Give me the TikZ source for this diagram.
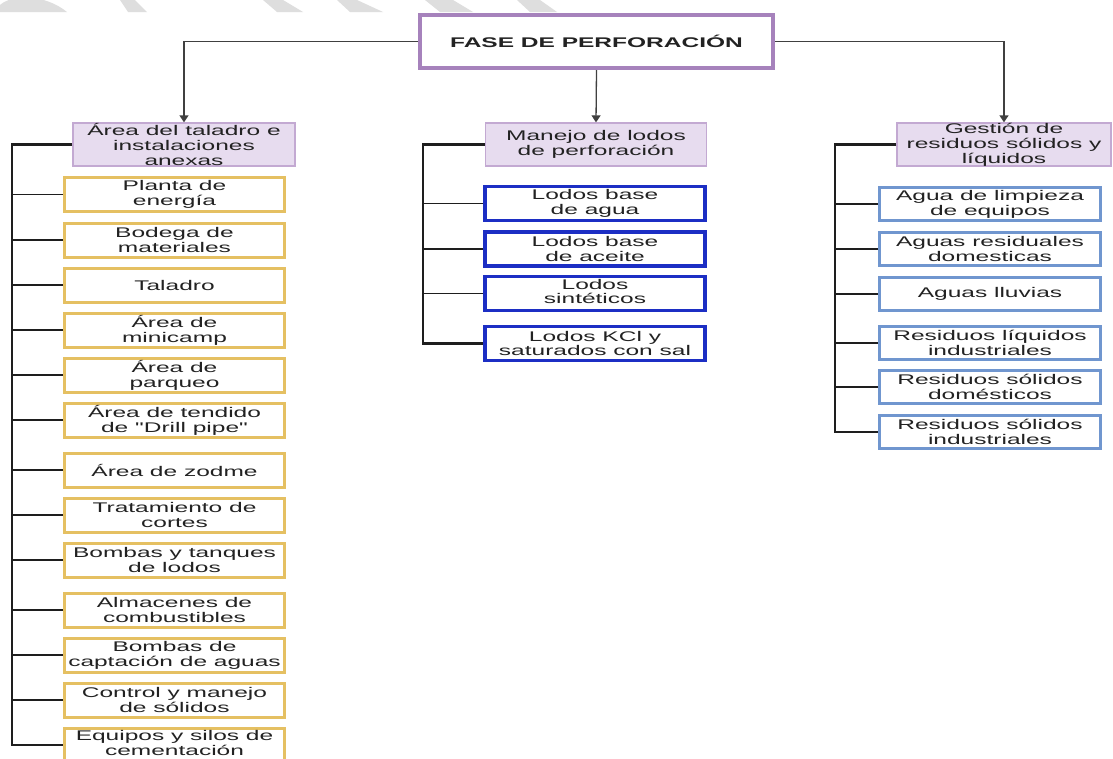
\documentclass[tikz,border=0pt]{standalone}
\usepackage{fontspec}
\setmainfont[FakeStretch=1.75,Ligatures=TeXOff]{Liberation Sans}
\usetikzlibrary{arrows.meta}

\definecolor{ink}{HTML}{222222}
\definecolor{wire}{HTML}{1E1E1E}
\definecolor{stripe}{HTML}{DEDEDE}
\definecolor{titleedge}{HTML}{A682BC}
\definecolor{catfill}{HTML}{E7DCEF}
\definecolor{catedge}{HTML}{C3A9D2}
\definecolor{goldedge}{HTML}{E5C062}
\definecolor{royaledge}{HTML}{1C2EC4}
\definecolor{steeledge}{HTML}{7096CF}

\begin{document}
\begin{tikzpicture}[x=1pt,y=-1pt,
  every node/.style={font=\fontsize{14}{14.8}\selectfont, text=ink, align=center, inner sep=0pt},
  titlebox/.style={draw=titleedge, line width=4pt, fill=white,
    minimum width=353pt, minimum height=53pt,
    font=\bfseries\fontsize{14}{15}\selectfont},
  catbox/.style={draw=catedge, fill=catfill, line width=1.3pt, minimum height=43pt},
  goldbox/.style={draw=goldedge, fill=white, line width=3pt, minimum width=220pt, minimum height=34pt},
  royalbox/.style={draw=royaledge, fill=white, line width=3.5pt, minimum width=220pt, minimum height=34pt},
  steelbox/.style={draw=steeledge, fill=white, line width=3pt, minimum width=221pt, minimum height=33pt},
  feed/.style={draw=wire!85, line width=1.3pt, -{Triangle[length=7pt,width=9pt]}},
  rail/.style={draw=wire, line width=2.5pt},
  twig/.style={draw=wire, line width=1.7pt}
]
\useasboundingbox (0,0) rectangle (1113,758);
\fill[white] (0,0) rectangle (1113,758);

% light grey band decoration along the top edge
\begin{scope}
\clip (0,0) rectangle (1113,758);
\fill[stripe] (0,12) -- (0,5) .. controls (12,-6) and (45,-6) .. (67,12) -- cycle;
\fill[stripe] (120,0) -- (135,0) -- (147,12) -- (128,12) -- cycle;
\fill[stripe] (263,0) -- (283,0) -- (303,12) -- (277,12) -- cycle;
\fill[stripe] (337,0) -- (357,0) -- (383,12) -- (350,12) -- cycle;
\fill[stripe] (425,0) -- (453,0) -- (473,12) -- (440,12) -- cycle;
\fill[stripe] (517,0) -- (540,0) -- (557,12) -- (530,12) -- cycle;
\end{scope}

% root
\node[titlebox] (root) at (596.5,41.5) {FASE DE PERFORACIÓN};

% branch headings
\node[catbox, minimum width=222pt] (catL) at (184,144.5) {Área del taladro e\\instalaciones\\anexas};
\node[catbox, minimum width=221pt] (catM) at (596,144.5) {Manejo de lodos\\de perforación};
\node[catbox, minimum width=214pt] (catR) at (1004,144.5) {Gestión de\\residuos sólidos y\\líquidos};

% root to headings
\draw[feed] (root.west) -| (catL.north);
\draw[feed] (root.south) -- (catM.north);
\draw[feed] (root.east) -| (catR.north);

% drilling area items
\node[goldbox] (L1)  at (174.5,194.5) {Planta de\\energía};
\node[goldbox] (L2)  at (174.5,240)   {Bodega de\\materiales};
\node[goldbox] (L3)  at (174.5,285)   {Taladro};
\node[goldbox] (L4)  at (174.5,330)   {Área de\\minicamp};
\node[goldbox] (L5)  at (174.5,375)   {Área de\\parqueo};
\node[goldbox] (L6)  at (174.5,420)   {Área de tendido\\de "Drill pipe"};
\node[goldbox] (L7)  at (174.5,470)   {Área de zodme};
\node[goldbox] (L8)  at (174.5,515)   {Tratamiento de\\cortes};
\node[goldbox] (L9)  at (174.5,560)   {Bombas y tanques\\de lodos};
\node[goldbox] (L10) at (174.5,610)   {Almacenes de\\combustibles};
\node[goldbox] (L11) at (174.5,655)   {Bombas de\\captación de aguas};
\node[goldbox] (L12) at (174.5,700)   {Control y manejo\\de sólidos};
\node[goldbox] (L13) at (174.5,745)   {\raisebox{3pt}{\begin{tabular}{@{}c@{}}Equipos y silos de\\cementación\end{tabular}}};

% drilling mud items
\node[royalbox] (M1) at (595,203.5) {Lodos base\\de agua};
\node[royalbox] (M2) at (595,249)   {Lodos base\\de aceite};
\node[royalbox] (M3) at (595,293.5) {\raisebox{3pt}{\begin{tabular}{@{}c@{}}Lodos\\sintéticos\end{tabular}}};
\node[royalbox] (M4) at (595,343.5) {Lodos KCl y\\saturados con sal};

% waste management items
\node[steelbox] (R1) at (990,204) {Agua de limpieza\\de equipos};
\node[steelbox] (R2) at (990,249) {Aguas residuales\\domesticas};
\node[steelbox] (R3) at (990,294) {Aguas lluvias};
\node[steelbox] (R4) at (990,343) {Residuos líquidos\\industriales};
\node[steelbox] (R5) at (990,387) {Residuos sólidos\\domésticos};
\node[steelbox] (R6) at (990,432) {Residuos sólidos\\industriales};

% spines of the three lists
\coordinate (spineL) at (12,0);
\coordinate (spineM) at (423,0);
\coordinate (spineR) at (835,0);

\draw[rail] (catL.west) -- (catL.west -| spineL) |- (L13.west);
\foreach \k in {1,...,12} \draw[twig] (L\k.west) -- (L\k.west -| spineL);

\draw[rail] (catM.west) -- (catM.west -| spineM) |- (M4.west);
\foreach \k in {1,2,3} \draw[twig] (M\k.west) -- (M\k.west -| spineM);

\draw[rail] (catR.west) -- (catR.west -| spineR) |- (R6.west);
\foreach \k in {1,...,5} \draw[twig] (R\k.west) -- (R\k.west -| spineR);
\end{tikzpicture}
\end{document}
